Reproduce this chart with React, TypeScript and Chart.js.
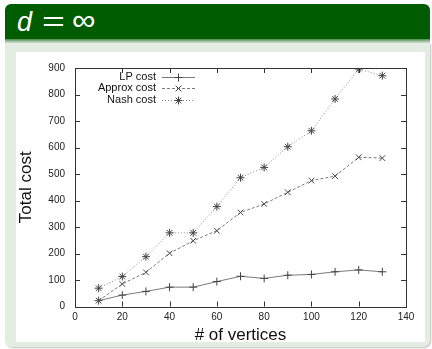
import React, { useEffect, useRef } from "react";
import { Chart, registerables } from "chart.js";

Chart.register(...registerables);

const vertices = [10, 20, 30, 40, 50, 60, 70, 80, 90, 100, 110, 120, 130];
const lpCost = [22, 43, 57, 73, 73, 94, 114, 106, 118, 121, 131, 138, 131];
const approxCost = [22, 85, 129, 201, 248, 286, 355, 387, 431, 475, 492, 563, 560];
const nashCost = [69, 113, 188, 278, 278, 377, 486, 525, 603, 663, 783, 896, 871];
const seriesNames = ["LP cost", "Approx cost", "Nash cost"];
const xTitle = "# of vertices";
const yTitle = "Total cost";

const FONT = "'Liberation Sans', Arial, Helvetica, sans-serif";

const gnuplotPlugin = {
  id: "gnuplotFrame",
  afterDatasetsDraw(chart: any) {
    const { ctx, chartArea: a, scales } = chart;
    ctx.save();
    ctx.strokeStyle = "#333";
    ctx.lineWidth = 1;
    ctx.setLineDash([]);
    ctx.strokeRect(Math.round(a.left) + 0.5, Math.round(a.top) + 0.5, Math.round(a.right - a.left), Math.round(a.bottom - a.top));
    const tl = 5;
    ctx.beginPath();
    scales.x.ticks.forEach((t: any) => {
      const px = Math.round(scales.x.getPixelForValue(t.value)) + 0.5;
      ctx.moveTo(px, a.bottom);
      ctx.lineTo(px, a.bottom - tl);
      ctx.moveTo(px, a.top);
      ctx.lineTo(px, a.top + tl);
    });
    scales.y.ticks.forEach((t: any) => {
      const py = Math.round(scales.y.getPixelForValue(t.value)) + 0.5;
      ctx.moveTo(a.left, py);
      ctx.lineTo(a.left + tl, py);
      ctx.moveTo(a.right, py);
      ctx.lineTo(a.right - tl, py);
    });
    ctx.stroke();

    // gnuplot-style legend
    const textRight = a.left + 81;
    const lineStart = textRight + 6;
    const lineEnd = textRight + 39;
    const rowH = 11.7;
    const top = a.top + 8.7;
    ctx.font = `11px ${FONT}`;
    ctx.textAlign = "right";
    ctx.textBaseline = "middle";
    chart.data.datasets.forEach((ds: any, i: number) => {
      const y = top + i * rowH;
      ctx.fillStyle = "#111";
      ctx.fillText(ds.label, textRight, y);
      ctx.save();
      ctx.strokeStyle = ds.borderColor;
      ctx.lineWidth = 1;
      ctx.setLineDash(ds.borderDash || []);
      ctx.beginPath();
      ctx.moveTo(lineStart, Math.round(y) + 0.5);
      ctx.lineTo(lineEnd, Math.round(y) + 0.5);
      ctx.stroke();
      ctx.restore();
      ctx.save();
      ctx.strokeStyle = ds.pointBorderColor;
      ctx.lineWidth = 1;
      ctx.setLineDash([]);
      const cx = (lineStart + lineEnd) / 2;
      const cy = Math.round(y) + 0.5;
      const r = 4;
      ctx.beginPath();
      if (ds.pointStyle === "cross" || ds.pointStyle === "star") {
        ctx.moveTo(cx - r, cy);
        ctx.lineTo(cx + r, cy);
        ctx.moveTo(cx, cy - r);
        ctx.lineTo(cx, cy + r);
      }
      if (ds.pointStyle === "crossRot" || ds.pointStyle === "star") {
        const d = r * Math.SQRT1_2;
        ctx.moveTo(cx - d, cy - d);
        ctx.lineTo(cx + d, cy + d);
        ctx.moveTo(cx - d, cy + d);
        ctx.lineTo(cx + d, cy - d);
      }
      ctx.stroke();
      ctx.restore();
    });
    ctx.restore();
  },
};

export default function App() {
  const ref = useRef<HTMLCanvasElement | null>(null);

  useEffect(() => {
    if (!ref.current) return;
    const toPts = (arr: number[]) => vertices.map((x, i) => ({ x, y: arr[i] }));
    const chart = new Chart(ref.current, {
      type: "line",
      data: {
        datasets: [
          {
            label: seriesNames[0],
            data: toPts(lpCost),
            borderColor: "#7a7a7a",
            borderWidth: 1,
            pointStyle: "cross",
            pointRadius: 4,
            pointBorderWidth: 1,
            pointBorderColor: "#444",
            pointBackgroundColor: "#444",
            fill: false,
            tension: 0,
          },
          {
            label: seriesNames[1],
            data: toPts(approxCost),
            borderColor: "#7a7a7a",
            borderWidth: 1,
            borderDash: [3, 2],
            pointStyle: "crossRot",
            pointRadius: 4,
            pointBorderWidth: 1,
            pointBorderColor: "#444",
            pointBackgroundColor: "#444",
            fill: false,
            tension: 0,
          },
          {
            label: seriesNames[2],
            data: toPts(nashCost),
            borderColor: "#8a8a8a",
            borderWidth: 1,
            borderDash: [1, 2],
            pointStyle: "star",
            pointRadius: 4,
            pointBorderWidth: 1,
            pointBorderColor: "#444",
            pointBackgroundColor: "#444",
            fill: false,
            tension: 0,
          },
        ],
      } as any,
      options: {
        animation: false,
        responsive: false,
        maintainAspectRatio: false,
        devicePixelRatio: 1,
        layout: { padding: { top: 16, right: 19, left: 0, bottom: 0 } },
        plugins: { legend: { display: false }, tooltip: { enabled: false } },
        scales: {
          x: {
            type: "linear",
            min: 0,
            max: 140,
            ticks: { stepSize: 20, color: "#222", font: { size: 10, family: FONT }, padding: 5, maxRotation: 0 },
            grid: { display: true, drawOnChartArea: false, drawTicks: false },
            border: { display: false },
            title: { display: true, text: xTitle, color: "#111", font: { size: 17, family: FONT }, padding: { top: 0, bottom: 3.8 } },
            afterFit: (s: any) => { s.height = 42.5; },
          },
          y: {
            type: "linear",
            min: 0,
            max: 900,
            ticks: { stepSize: 100, color: "#222", font: { size: 10, family: FONT }, padding: 10 },
            grid: { display: true, drawOnChartArea: false, drawTicks: false },
            border: { display: false },
            title: { display: true, text: yTitle, color: "#111", font: { size: 17, family: FONT }, padding: { top: 0, bottom: 0 } },
            afterFit: (s: any) => { s.width = 59; },
          },
        },
      } as any,
      plugins: [gnuplotPlugin],
    });
    return () => chart.destroy();
  }, []);

  const glyph: React.CSSProperties = {
    position: "absolute",
    top: 2,
    color: "#fff",
    fontFamily: FONT,
    fontSize: 27,
    lineHeight: "32px",
    whiteSpace: "nowrap",
    fontWeight: 300,
  };

  return (
    <div style={{ position: "fixed", left: 0, top: 0, width: 432, height: 349, background: "#fff", overflow: "hidden" }}>
      <div
        style={{
          position: "absolute",
          left: 5,
          top: 4,
          width: 425,
          height: 35,
          background: "#005c00",
          borderTopLeftRadius: 6,
          borderTopRightRadius: 6,
        }}
      >
        <span style={{ ...glyph, left: 12, fontStyle: "italic" }}>d</span>
        <span style={{ ...glyph, left: 37, transform: "scaleX(1.45)", transformOrigin: "left center" }}>=</span>
        <span style={{ ...glyph, left: 67, top: 0, fontSize: 33, transform: "scaleY(0.9)" }}>∞</span>
      </div>
      <div
        style={{
          position: "absolute",
          left: 5,
          top: 39,
          width: 425,
          height: 4,
          background: "linear-gradient(#4f8a4f, #d8e6d8)",
        }}
      />
      <div
        style={{
          position: "absolute",
          left: 5,
          top: 43,
          width: 425,
          height: 304,
          background: "#e4ede4",
          borderBottomLeftRadius: 7,
          borderBottomRightRadius: 7,
          boxShadow: "1px 1px 2px rgba(0,0,0,0.25)",
        }}
      />
      <div style={{ position: "absolute", left: 16, top: 52, width: 409, height: 290, background: "#fff" }} />
      <canvas ref={ref} width={409} height={297} style={{ position: "absolute", left: 16, top: 52, width: 409, height: 297 }} />
    </div>
  );
}
